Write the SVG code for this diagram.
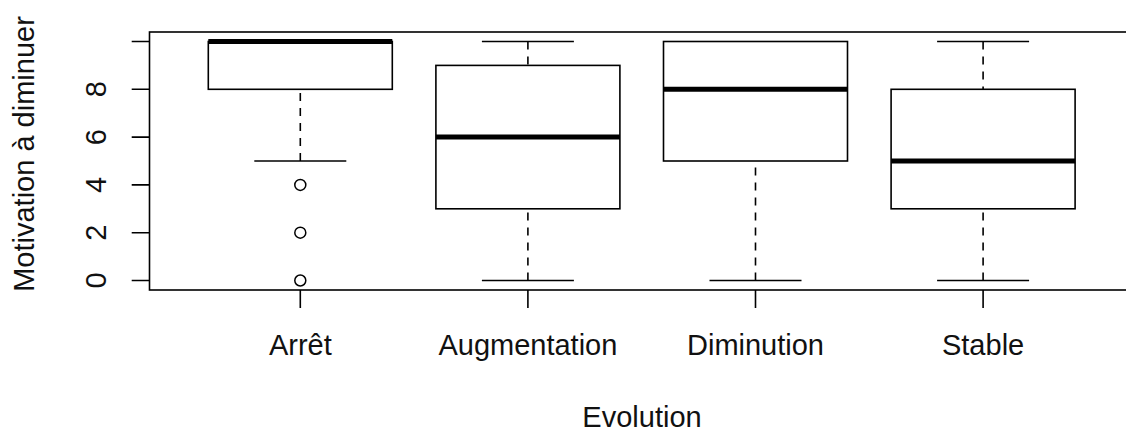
<svg xmlns="http://www.w3.org/2000/svg" width="1126" height="434" viewBox="0 0 1126 434">
<style>
.ln{stroke:#000;stroke-width:1.6;fill:none}
.bx{stroke:#000;stroke-width:1.6;fill:#fff}
.med{stroke:#000;stroke-width:5;fill:none}
.wh{stroke:#000;stroke-width:1.6;stroke-dasharray:8 7;fill:none}
.out{stroke:#000;stroke-width:1.5;fill:none}
text{font-family:"Liberation Sans",Arial,sans-serif;font-size:29px;fill:#111}
</style>
<rect width="1126" height="434" fill="#fff"/>
<g id="frame">
<rect class="ln" x="149.5" y="32" width="1000" height="258"/>
</g>
<g id="y-axis">
<path class="ln" d="M131.7 280.5H149.5M131.7 232.7H149.5M131.7 184.9H149.5M131.7 137.1H149.5M131.7 89.3H149.5M131.7 41.5H149.5"/>
<text transform="translate(106 280.5) rotate(-90)" text-anchor="middle">0</text>
<text transform="translate(106 232.7) rotate(-90)" text-anchor="middle">2</text>
<text transform="translate(106 184.9) rotate(-90)" text-anchor="middle">4</text>
<text transform="translate(106 137.1) rotate(-90)" text-anchor="middle">6</text>
<text transform="translate(106 89.3) rotate(-90)" text-anchor="middle">8</text>
<text transform="translate(33.5 154) rotate(-90)" text-anchor="middle">Motivation à diminuer</text>
</g>
<g id="x-axis">
<path class="ln" d="M300.3 290V308M527.9 290V308M755.5 290V308M983.1 290V308"/>
<text x="300.3" y="355" text-anchor="middle">Arrêt</text>
<text x="527.9" y="355" text-anchor="middle">Augmentation</text>
<text x="755.5" y="355" text-anchor="middle">Diminution</text>
<text x="983.1" y="355" text-anchor="middle">Stable</text>
<text x="642" y="427" text-anchor="middle">Evolution</text>
</g>
<g id="box-arret">
<path class="wh" d="M300.3 161V89.3"/>
<path class="ln" d="M254.3 161H346.3"/>
<rect class="bx" x="208.3" y="41.5" width="184" height="47.8"/>
<path class="med" d="M208.3 41.5H392.3"/>
<circle class="out" cx="300.3" cy="184.9" r="5.5"/>
<circle class="out" cx="300.3" cy="232.7" r="5.5"/>
<circle class="out" cx="300.3" cy="280.5" r="5.5"/>
</g>
<g id="box-augmentation">
<path class="wh" d="M527.9 41.5V65.4M527.9 280.5V208.8"/>
<path class="ln" d="M481.9 41.5H573.9M481.9 280.5H573.9"/>
<rect class="bx" x="435.9" y="65.4" width="184" height="143.4"/>
<path class="med" d="M435.9 137.1H619.9"/>
</g>
<g id="box-diminution">
<path class="wh" d="M755.5 280.5V161"/>
<path class="ln" d="M709.5 280.5H801.5"/>
<rect class="bx" x="663.5" y="41.5" width="184" height="119.5"/>
<path class="med" d="M663.5 89.3H847.5"/>
</g>
<g id="box-stable">
<path class="wh" d="M983.1 41.5V89.3M983.1 280.5V208.8"/>
<path class="ln" d="M937.1 41.5H1029.1M937.1 280.5H1029.1"/>
<rect class="bx" x="891.1" y="89.3" width="184" height="119.5"/>
<path class="med" d="M891.1 161H1075.1"/>
</g>
<g id="connectors"/>
</svg>
